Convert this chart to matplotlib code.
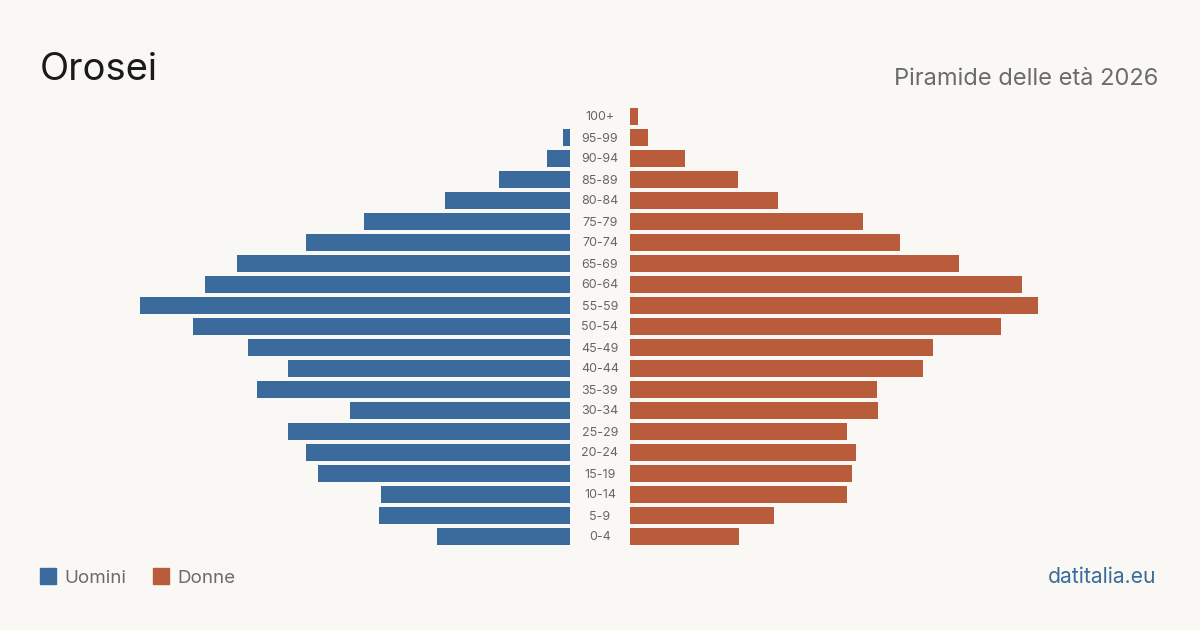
import matplotlib
matplotlib.use("Agg")
import matplotlib.pyplot as plt
from matplotlib.patches import Rectangle

plt.rcParams['font.family'] = ['Inter', 'DejaVu Sans']

age_groups = ["0-4", "5-9", "10-14", "15-19", "20-24", "25-29", "30-34", "35-39",
              "40-44", "45-49", "50-54", "55-59", "60-64", "65-69", "70-74", "75-79",
              "80-84", "85-89", "90-94", "95-99", "100+"]
males = [133, 191, 189, 252, 264, 282, 220, 313, 282, 322, 377, 430, 365, 333,
         264, 206, 125, 71, 23, 7, 0]
females = [109, 144, 217, 222, 226, 217, 248, 247, 293, 303, 371, 408, 392, 329,
           270, 233, 148, 108, 55, 18, 8]

BLUE = "#3a6b9c"
ORANGE = "#b95c3c"
BG = "#f9f8f4"

W, H = 1200, 630
fig = plt.figure(figsize=(12, 6.3), dpi=100, facecolor=BG)

def fx(px):
    return px / W

def fy(py):
    return 1 - py / H

top_px, bot_px = 106, 547
axh = (bot_px - top_px) / H
axb = fy(bot_px)

axL = fig.add_axes([fx(100), axb, fx(470), axh])
axR = fig.add_axes([fx(630), axb, fx(470), axh])

y = list(range(len(age_groups)))
axL.barh(y, males, height=0.81, color=BLUE)
axR.barh(y, females, height=0.81, color=ORANGE)
axL.set_xlim(470, 0)
axR.set_xlim(0, 470)
for ax in (axL, axR):
    ax.set_ylim(-0.5, len(age_groups) - 0.5)
    ax.axis('off')
    ax.set_facecolor('none')

# center labels
for i, lab in enumerate(age_groups):
    ypx = bot_px - (i + 0.5) * (bot_px - top_px) / len(age_groups) + 1
    fig.text(fx(600), fy(ypx), lab, ha='center', va='center', fontsize=9,
             color='#666666')

fig.text(fx(40), fy(80), "Orosei", ha='left', va='baseline', fontsize=27.5,
         color='#1a1a1a')
fig.text(fx(1158), fy(85), "Piramide delle età 2026", ha='right', va='baseline',
         fontsize=17, color='#6b6b6b')

# legend
fig.patches.append(Rectangle((fx(40), fy(584)), fx(16), 16 / H, transform=fig.transFigure,
                             color=BLUE))
fig.text(fx(64), fy(583), "Uomini", ha='left', va='baseline', fontsize=13.5, color='#6b6b6b')
fig.patches.append(Rectangle((fx(153), fy(584)), fx(16), 16 / H, transform=fig.transFigure,
                             color=ORANGE))
fig.text(fx(177), fy(583), "Donne", ha='left', va='baseline', fontsize=13.5, color='#6b6b6b')

fig.text(fx(1156), fy(583), "datitalia.eu", ha='right', va='baseline', fontsize=15.2,
         color=BLUE)

fig.savefig("out.png", dpi=100, facecolor=BG)
